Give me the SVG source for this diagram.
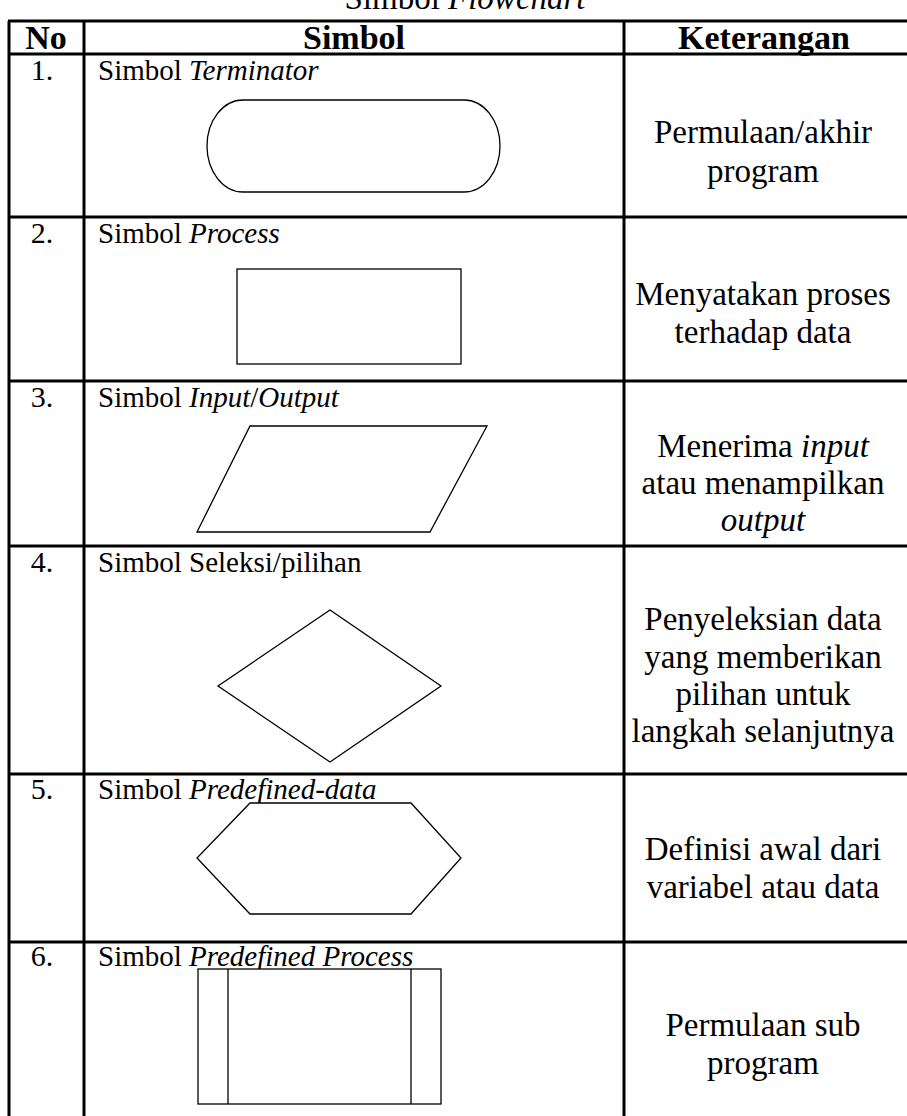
<svg xmlns="http://www.w3.org/2000/svg" width="907" height="1116" viewBox="0 0 907 1116">
<style>
text{font-family:"Liberation Serif","Times New Roman",serif;fill:#000}
.h{font-size:34px;font-weight:bold;text-anchor:middle}
.b{font-size:29px}
.n{font-size:30px;text-anchor:middle}
.c{font-size:33px;text-anchor:middle}
.i{font-style:italic}
.grid{stroke:#000;stroke-width:3;fill:none}
.shape{stroke:#000;stroke-width:1.3;fill:#fff}
</style>
<rect width="907" height="1116" fill="#fff"/>
<text class="c" x="465" y="9">Simbol <tspan class="i">Flowchart</tspan></text>
<g id="table" class="grid">
<line x1="8" y1="21" x2="907" y2="21"/>
<line x1="8" y1="54" x2="907" y2="54"/>
<line x1="8" y1="217" x2="907" y2="217"/>
<line x1="8" y1="381" x2="907" y2="381"/>
<line x1="8" y1="546" x2="907" y2="546"/>
<line x1="8" y1="774" x2="907" y2="774"/>
<line x1="8" y1="942" x2="907" y2="942"/>
<line x1="9" y1="21" x2="9" y2="1116"/>
<line x1="84" y1="21" x2="84" y2="1116"/>
<line x1="624" y1="21" x2="624" y2="1116"/>
</g>
<g id="header">
<text class="h" x="46" y="49">No</text>
<text class="h" x="354" y="49">Simbol</text>
<text class="h" x="764" y="49">Keterangan</text>
</g>
<g id="row1">
<text class="n" x="42" y="80">1.</text>
<text class="b" x="98" y="80">Simbol <tspan class="i">Terminator</tspan></text>
<rect class="shape" x="207" y="100" width="293" height="92" rx="36" ry="46"/>
<text class="c" x="763" y="143">Permulaan/akhir</text>
<text class="c" x="763" y="182">program</text>
</g>
<g id="row2">
<text class="n" x="42" y="243">2.</text>
<text class="b" x="98" y="243">Simbol <tspan class="i">Process</tspan></text>
<rect class="shape" x="237" y="269" width="224" height="95"/>
<text class="c" x="763" y="305">Menyatakan proses</text>
<text class="c" x="763" y="343">terhadap data</text>
</g>
<g id="row3">
<text class="n" x="42" y="407">3.</text>
<text class="b" x="98" y="407">Simbol <tspan class="i">Input</tspan>/<tspan class="i">Output</tspan></text>
<polygon class="shape" points="250,426 487,426 430,532 197,532"/>
<text class="c" x="763" y="457">Menerima <tspan class="i">input</tspan></text>
<text class="c" x="763" y="494">atau menampilkan</text>
<text class="c i" x="763" y="531">output</text>
</g>
<g id="row4">
<text class="n" x="42" y="572">4.</text>
<text class="b" x="98" y="572">Simbol Seleksi/pilihan</text>
<polygon class="shape" points="330,610 441,686 330,762 218,686"/>
<text class="c" x="763" y="630">Penyeleksian data</text>
<text class="c" x="763" y="668">yang memberikan</text>
<text class="c" x="763" y="705">pilihan untuk</text>
<text class="c" x="763" y="742">langkah selanjutnya</text>
</g>
<g id="row5">
<text class="n" x="42" y="799">5.</text>
<text class="b" x="98" y="799">Simbol <tspan class="i">Predefined-data</tspan></text>
<polygon class="shape" points="250,803 411,803 461,858 411,914 250,914 197,858"/>
<text class="c" x="763" y="860">Definisi awal dari</text>
<text class="c" x="763" y="898">variabel atau data</text>
</g>
<g id="row6">
<text class="n" x="42" y="966">6.</text>
<text class="b" x="98" y="966">Simbol <tspan class="i">Predefined Process</tspan></text>
<rect class="shape" x="198" y="969" width="243" height="135"/>
<line class="shape" x1="228" y1="969" x2="228" y2="1104"/>
<line class="shape" x1="411" y1="969" x2="411" y2="1104"/>
<text class="c" x="763" y="1036">Permulaan sub</text>
<text class="c" x="763" y="1074">program</text>
</g>
</svg>
